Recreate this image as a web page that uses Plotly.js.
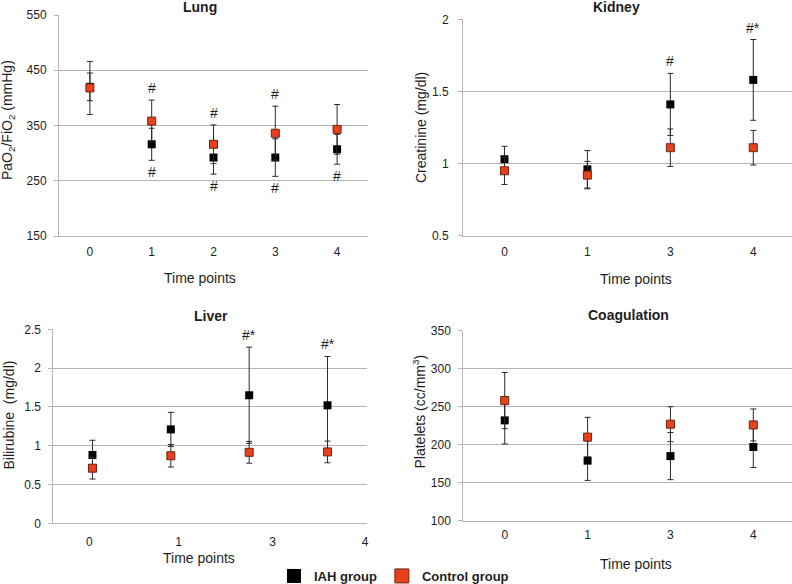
<!DOCTYPE html>
<html><head><meta charset="utf-8">
<script src="https://cdn.plot.ly/plotly-3.0.1.min.js"></script>
<style>html,body{margin:0;padding:0;background:#fff}#chart{width:792px;height:584px}</style>
</head><body><div id="chart"></div>
<script>
// ---------- data ----------
const seriesNames = ['IAH group', 'Control group'];

const lungTimes = ['0', '1', '2', '3', '4'];
const lungIAH = [420, 316, 292, 292, 307];
const lungIAHErr = [25, 29, 30, 34, 27];
const lungCtrl = [418, 358, 316, 336, 343];
const lungCtrlErr = [48, 38, 35, 49, 45];
const lungSigUp = ['', '#', '#', '#', ''];
const lungSigDown = ['', '#', '#', '#', '#'];

const kidneyTimes = ['0', '1', '3', '4'];
const kidneyIAH = [1.03, 0.96, 1.41, 1.58];
const kidneyIAHErr = [0.09, 0.13, 0.215, 0.28];
const kidneyCtrl = [0.95, 0.92, 1.11, 1.11];
const kidneyCtrlErr = [0.095, 0.095, 0.13, 0.12];
const kidneySigUp = ['', '', '#', '#*'];

const liverTimes = ['0', '1', '3', '4'];
const liverIAH = [0.88, 1.21, 1.65, 1.52];
const liverIAHErr = [0.19, 0.22, 0.62, 0.63];
const liverCtrl = [0.71, 0.87, 0.915, 0.92];
const liverCtrlErr = [0.14, 0.145, 0.14, 0.14];
const liverSigUp = ['', '', '#*', '#*'];

const coagTimes = ['0', '1', '3', '4'];
const coagIAH = [232, 179, 185, 197];
const coagIAHErr = [31, 26, 31, 27];
const coagCtrl = [258, 210, 227, 226];
const coagCtrlErr = [37, 26, 23, 21];

// ---------- styling ----------
const W = 792, H = 584;
const FONT = 'Liberation Sans, Arial, Helvetica, sans-serif';
const TXT = '#1e1e1e';
const GRID = '#b4b4b4';
const IAH_COLOR = '#000000';
const CTRL_COLOR = '#e8411d';
const CTRL_EDGE = '#6e2512';
const ERR_COLOR = '#2a2a2a';

const px = (x) => x / W;
const py = (y) => 1 - y / H;

// liver x axis: markers evenly spaced, labels drawn at shifted positions (as in the source figure)
const liverTickPos = [-0.04, 1.1, 2.3, 3.48];

function pair(xs, iah, iahErr, ctrl, ctrlErr, xa, ya) {
  const base = {type: 'scatter', mode: 'markers', x: xs, xaxis: xa, yaxis: ya,
    showlegend: false, cliponaxis: false, hoverinfo: 'skip'};
  return [
    Object.assign({}, base, {name: seriesNames[0], y: iah,
      marker: {symbol: 'square', size: 8, color: IAH_COLOR, line: {width: 0}},
      error_y: {type: 'data', array: iahErr, visible: true, color: ERR_COLOR, thickness: 1, width: 3}}),
    Object.assign({}, base, {name: seriesNames[1], y: ctrl,
      marker: {symbol: 'square', size: 8, color: CTRL_COLOR, line: {width: 1, color: CTRL_EDGE}},
      error_y: {type: 'data', array: ctrlErr, visible: true, color: ERR_COLOR, thickness: 1, width: 3}})
  ];
}

const liverX = liverIAH.map((_, i) => i);

const traces = [].concat(
  pair(lungTimes, lungIAH, lungIAHErr, lungCtrl, lungCtrlErr, 'x', 'y'),
  pair(kidneyTimes, kidneyIAH, kidneyIAHErr, kidneyCtrl, kidneyCtrlErr, 'x2', 'y2'),
  pair(liverX, liverIAH, liverIAHErr, liverCtrl, liverCtrlErr, 'x3', 'y3'),
  pair(coagTimes, coagIAH, coagIAHErr, coagCtrl, coagCtrlErr, 'x4', 'y4'),
  // legend entries
  [
    {type: 'scatter', mode: 'markers', x: [null], y: [null], name: seriesNames[0], xaxis: 'x', yaxis: 'y',
     marker: {symbol: 'square', size: 14, color: IAH_COLOR}},
    {type: 'scatter', mode: 'markers', x: [null], y: [null], name: seriesNames[1], xaxis: 'x', yaxis: 'y',
     marker: {symbol: 'square', size: 14, color: CTRL_COLOR, line: {width: 1, color: CTRL_EDGE}}}
  ]
);

function yAxis(domain, range, dtick, anchor, standoff) {
  return {domain, range, dtick, tick0: range[0], anchor, showgrid: true, gridcolor: GRID, gridwidth: 1,
    showline: true, linecolor: GRID, linewidth: 1, zeroline: false, ticks: 'outside', ticklen: 4,
    tickcolor: GRID, ticklabelstandoff: standoff, tickfont: {family: FONT, size: 12, color: TXT}, fixedrange: true};
}
function xAxis(domain, anchor, extra) {
  return Object.assign({domain, anchor, showgrid: false, showline: true, linecolor: GRID, linewidth: 1,
    zeroline: false, ticks: '', ticklabelstandoff: 5, tickfont: {family: FONT, size: 12, color: TXT},
    fixedrange: true}, extra);
}

const layout = {
  width: W, height: H,
  margin: {l: 0, r: 0, t: 0, b: 0, autoexpand: false},
  paper_bgcolor: '#ffffff', plot_bgcolor: '#ffffff',
  font: {family: FONT, color: TXT},
  showlegend: true,
  legend: {orientation: 'h', x: px(274), xanchor: 'left', y: py(576), yanchor: 'middle',
    font: {family: FONT, size: 13, color: TXT, weight: 'bold'}, bgcolor: 'rgba(0,0,0,0)',
    itemclick: false, itemdoubleclick: false},
  xaxis: xAxis([px(59), px(368)], 'y', {type: 'category', range: [-0.5, 4.5], ticklabelstandoff: 5}),
  yaxis: yAxis([py(236), py(15)], [150, 550], 100, 'x', 5),
  xaxis2: xAxis([px(463), 1], 'y2', {type: 'category', range: [-0.5, 3.467], ticklabelstandoff: 5}),
  yaxis2: yAxis([py(235.7), py(19.3)], [0.5, 2], 0.5, 'x2', 7),
  xaxis3: xAxis([px(53.3), px(366.7)], 'y3', {type: 'linear', range: [-0.5, 3.5],
    tickmode: 'array', tickvals: liverTickPos, ticktext: liverTimes, ticklabelstandoff: 7}),
  yaxis3: yAxis([py(523.3), py(329.3)], [0, 2.5], 0.5, 'x3', 5),
  xaxis4: xAxis([px(463.3), 1], 'y4', {type: 'category', range: [-0.5, 3.467], ticklabelstandoff: 3}),
  yaxis4: yAxis([py(520.7), py(330.7)], [100, 350], 50, 'x4', 5),
  annotations: []
};

function addText(text, x, y, opts) {
  layout.annotations.push(Object.assign({text, x: px(x), y: py(y), xref: 'paper', yref: 'paper',
    showarrow: false, xanchor: 'center', yanchor: 'middle',
    font: {family: FONT, size: 14, color: TXT}}, opts || {}));
}
// panel titles
addText('<b>Lung</b>', 199.7, 7.5);
addText('<b>Kidney</b>', 616, 7.5);
addText('<b>Liver</b>', 210.5, 316);
addText('<b>Coagulation</b>', 628, 315);
// x titles
addText('Time points', 200, 278);
addText('Time points', 635.7, 279);
addText('Time points', 199, 558);
addText('Time points', 635.7, 564);
// y titles
addText('PaO<sub>2</sub>/FiO<sub>2</sub> (mmHg)', 8, 120, {textangle: -90});
addText('Creatinine (mg/dl)', 421, 128, {textangle: -90});
addText('Bilirubine \u00a0(mg/dl)', 8.5, 415, {textangle: -90});
addText('Platelets (cc/mm<sup>3</sup>)', 419, 411.5, {textangle: -90});

// significance marks, anchored to error-bar ends (x given as category index)
function sig(marks, a, ae, b, be, xa, ya, up) {
  marks.forEach((m, i) => {
    if (!m) return;
    const y = up ? Math.max(a[i] + ae[i], b[i] + be[i]) : Math.min(a[i] - ae[i], b[i] - be[i]);
    layout.annotations.push({text: m, x: i, y, xref: xa, yref: ya, showarrow: false,
      xanchor: 'center', yanchor: up ? 'bottom' : 'top', yshift: up ? 2 : -2,
      font: {family: FONT, size: 14, color: TXT}});
  });
}
sig(lungSigUp, lungIAH, lungIAHErr, lungCtrl, lungCtrlErr, 'x', 'y', true);
sig(lungSigDown, lungIAH, lungIAHErr, lungCtrl, lungCtrlErr, 'x', 'y', false);
sig(kidneySigUp, kidneyIAH, kidneyIAHErr, kidneyCtrl, kidneyCtrlErr, 'x2', 'y2', true);
sig(liverSigUp, liverIAH, liverIAHErr, liverCtrl, liverCtrlErr, 'x3', 'y3', true);

Plotly.newPlot('chart', traces, layout, {staticPlot: true, displayModeBar: false});
</script>
</body></html>
